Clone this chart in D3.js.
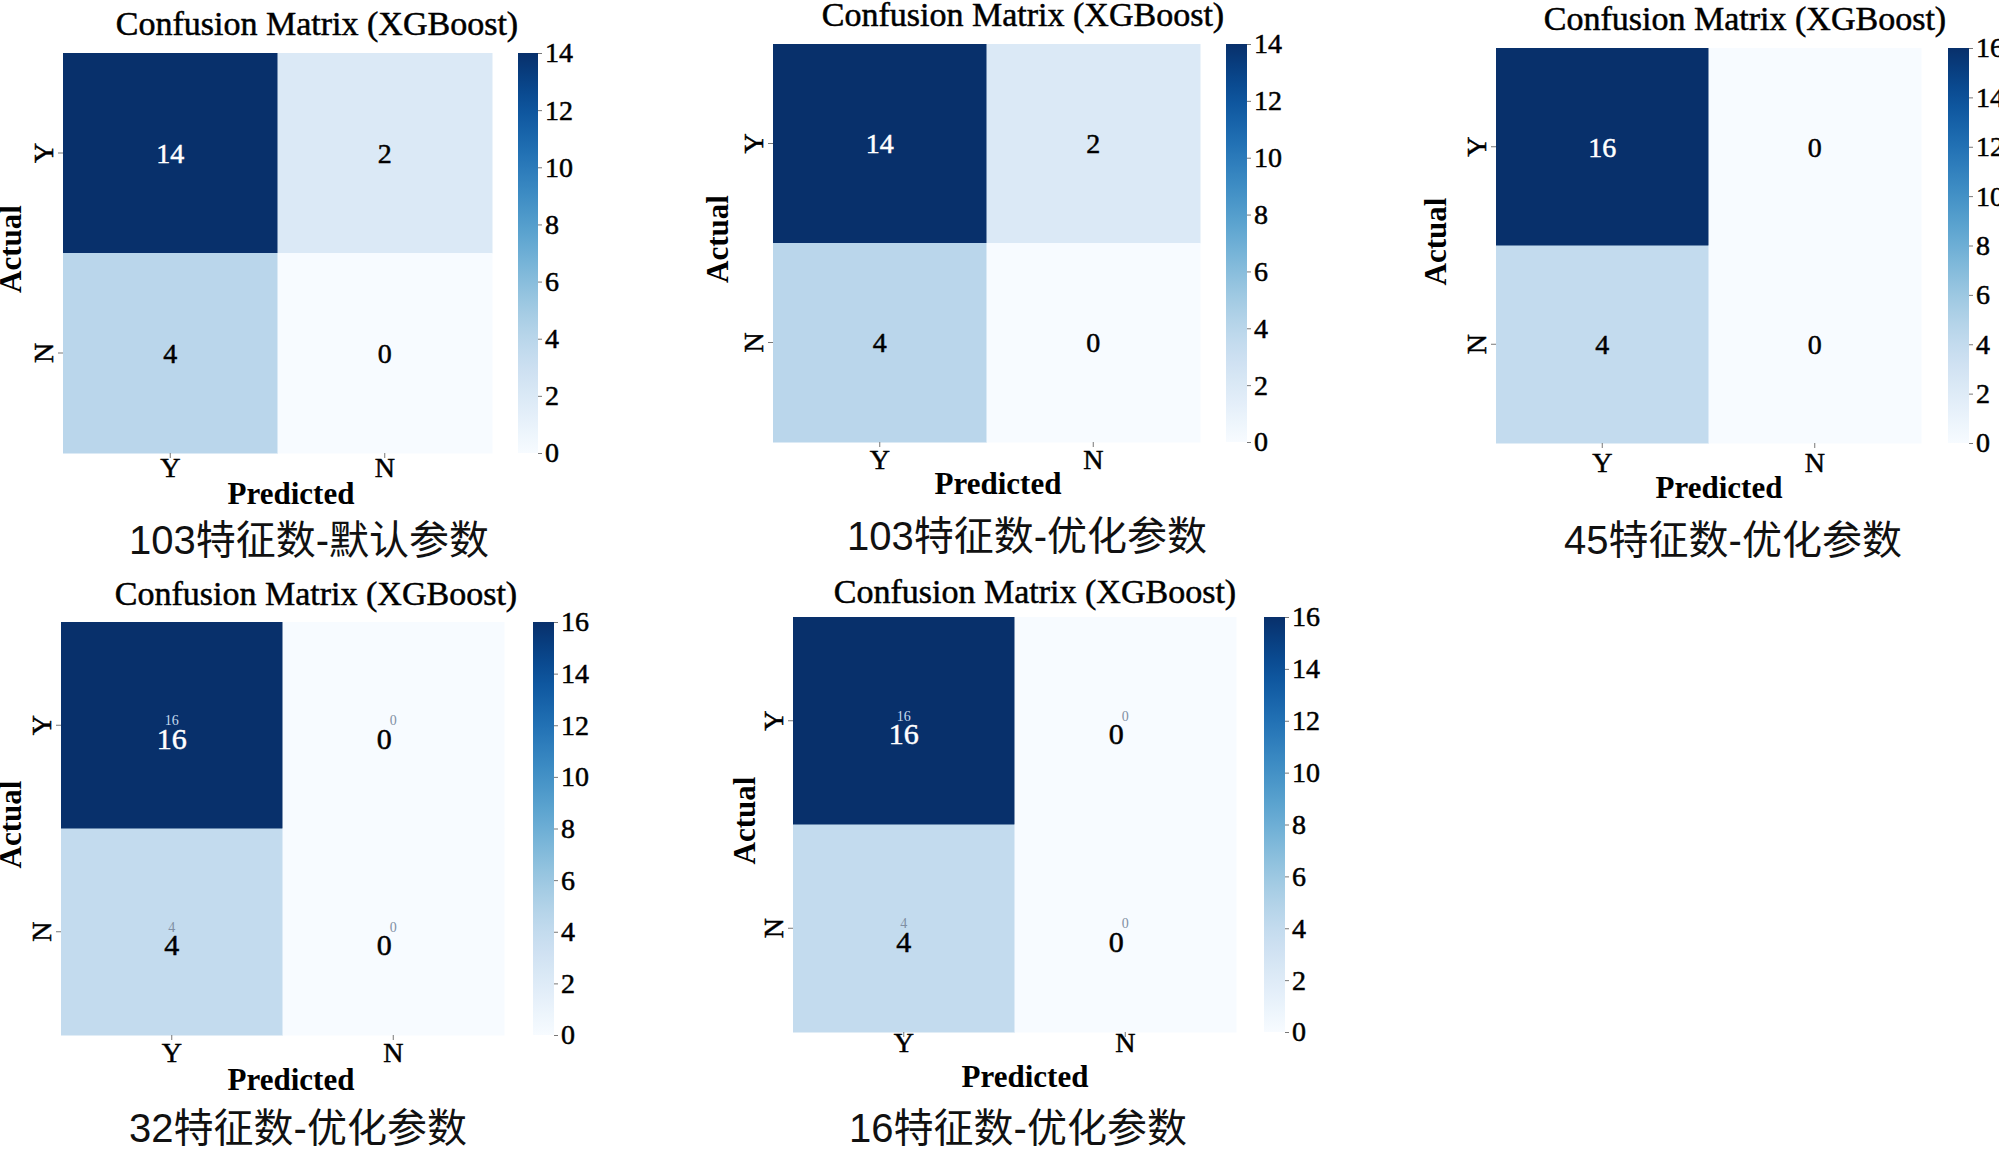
<!DOCTYPE html>
<html>
<head>
<meta charset="utf-8">
<script src="https://cdn.jsdelivr.net/npm/d3@7"></script>
<style>
body { margin: 0; background: #fff; }
text { font-family: "Liberation Serif", "Times New Roman", serif; }
.serif { stroke-width: 0.5; paint-order: stroke; }
.sub { font-family: "Liberation Sans", "Noto Sans CJK SC", sans-serif; }
</style>
</head>
<body>
<div id="chart"></div>
<script>
//--------------------- data
let classes = ["Y", "N"];
let chartTitle = "Confusion Matrix (XGBoost)";
let subTitles = ["103特征数-默认参数", "103特征数-优化参数", "45特征数-优化参数", "32特征数-优化参数", "16特征数-优化参数"];
let cm_103_default = [[14, 2], [4, 0]];
let cm_103_opt = [[14, 2], [4, 0]];
let cm_45_opt = [[16, 0], [4, 0]];
let cm_32_opt = [[16, 0], [4, 0]];
let cm_16_opt = [[16, 0], [4, 0]];
let cbarTicks14 = [0, 2, 4, 6, 8, 10, 12, 14];
let cbarTicks16 = [0, 2, 4, 6, 8, 10, 12, 14, 16];

let matrices = [cm_103_default, cm_103_opt, cm_45_opt, cm_32_opt, cm_16_opt];
let cbarTicks = [cbarTicks14, cbarTicks14, cbarTicks16, cbarTicks16, cbarTicks16];

//--------------------- layout of each panel (heatmap box, colorbar x, text spots)
let layout = [
    {hm: [63, 492, 53, 453], cb: [518, 538], title: [317, 35], actualX: 21, tickY: 477, pred: [291, 504], sub: [309, 554], ghost: false},
    {hm: [773, 1200, 44, 442], cb: [1226, 1247], title: [1023, 26], actualX: 728, tickY: 469, pred: [998, 494], sub: [1027, 550], ghost: false},
    {hm: [1496, 1921, 48, 443], cb: [1948, 1969], title: [1745, 30], actualX: 1446, tickY: 472, pred: [1719, 498], sub: [1733, 554], ghost: false},
    {hm: [61, 504, 622, 1035], cb: [533, 554], title: [316, 605], actualX: 21, tickY: 1062, pred: [291, 1090], sub: [298, 1142], ghost: true},
    {hm: [793, 1236, 617, 1032], cb: [1264, 1285], title: [1035, 603], actualX: 755, tickY: 1052, pred: [1025, 1087], sub: [1018, 1142], ghost: true}
];

let svg = d3.select("#chart").append("svg")
    .attr("width", 1999)
    .attr("height", 1150)
    .style("background", "#fff");

let defs = svg.append("defs");

matrices.forEach((m, i) => {
    let L = layout[i];
    let ticks = cbarTicks[i];
    let vmax = d3.max(ticks);
    let g = svg.append("g");

    let x = d3.scaleBand().domain(classes).range([L.hm[0], L.hm[1]]);
    let y = d3.scaleBand().domain(classes).range([L.hm[2], L.hm[3]]);
    let color = d3.scaleSequential(d3.interpolateBlues).domain([0, vmax]);

    let cells = [];
    classes.forEach((a, r) => classes.forEach((p, c) => cells.push({actual: a, pred: p, v: m[r][c], c: c})));

    // cells
    g.selectAll(".cell").data(cells).enter().append("rect")
        .attr("x", d => x(d.pred))
        .attr("y", d => y(d.actual))
        .attr("width", x.bandwidth() + 0.5)
        .attr("height", y.bandwidth() + 0.5)
        .attr("fill", d => color(d.v));

    // ghost labels (small leftovers seen in two panels)
    if (L.ghost) {
        g.selectAll(".ghost").data(cells).enter().append("text")
            .attr("x", d => x(d.pred) + x.bandwidth() / 2)
            .attr("y", d => y(d.actual) + y.bandwidth() / 2)
            .attr("text-anchor", "middle")
            .attr("font-size", 14)
            .attr("fill", d => d.v > vmax / 2 ? "#c6dbef" : "#7f8fa3")
            .text(d => d.v);
    }

    // value labels
    g.selectAll(".val").data(cells).enter().append("text")
        .attr("class", "serif")
        .attr("x", d => x(d.pred) + x.bandwidth() / 2 + (L.ghost && d.c == 1 ? -9 : 0))
        .attr("y", d => y(d.actual) + y.bandwidth() / 2 + (L.ghost ? 13 : 0))
        .attr("dy", "0.35em")
        .attr("text-anchor", "middle")
        .attr("font-size", L.ghost ? 30 : 28)
        .attr("fill", d => d.v > vmax / 2 ? "#fff" : "#000")
        .attr("stroke", d => d.v > vmax / 2 ? "#fff" : "#000")
        .text(d => d.v);

    // axes
    let yAxis = g.append("g")
        .attr("transform", "translate(" + L.hm[0] + ",0)")
        .call(d3.axisLeft(y).tickSize(5).tickPadding(5));
    yAxis.select(".domain").remove();
    yAxis.selectAll("line").attr("stroke", "#777");
    yAxis.selectAll("text")
        .attr("class", "serif")
        .attr("font-size", 28)
        .attr("fill", "#000").attr("stroke", "#000")
        .attr("text-anchor", "middle")
        .attr("x", null).attr("dy", null)
        .attr("transform", "translate(-10,0) rotate(-90)");

    let xAxis = g.append("g")
        .attr("transform", "translate(0," + L.hm[3] + ")")
        .call(d3.axisBottom(x).tickSize(5));
    xAxis.select(".domain").remove();
    xAxis.selectAll("line").attr("stroke", "#777");
    xAxis.selectAll("text")
        .attr("class", "serif")
        .attr("font-size", 28)
        .attr("fill", "#000").attr("stroke", "#000")
        .attr("y", L.tickY - L.hm[3])
        .attr("dy", null);

    // colorbar
    let gid = "cbgrad" + i;
    let grad = defs.append("linearGradient").attr("id", gid)
        .attr("x1", 0).attr("y1", 1).attr("x2", 0).attr("y2", 0);
    d3.range(0, 1.0001, 0.05).forEach(t => {
        grad.append("stop").attr("offset", t).attr("stop-color", d3.interpolateBlues(t));
    });
    g.append("rect")
        .attr("x", L.cb[0]).attr("y", L.hm[2])
        .attr("width", L.cb[1] - L.cb[0])
        .attr("height", L.hm[3] - L.hm[2])
        .attr("fill", "url(#" + gid + ")");
    let cy = d3.scaleLinear().domain([0, vmax]).range([L.hm[3], L.hm[2]]);
    let cAxis = g.append("g")
        .attr("transform", "translate(" + L.cb[1] + ",0)")
        .call(d3.axisRight(cy).tickValues(ticks).tickSize(4).tickPadding(3));
    cAxis.select(".domain").remove();
    cAxis.selectAll("line").attr("stroke", "#777");
    cAxis.selectAll("text")
        .attr("class", "serif")
        .attr("font-size", 28)
        .attr("fill", "#000").attr("stroke", "#000");

    // titles
    g.append("text")
        .attr("class", "serif")
        .attr("x", L.title[0]).attr("y", L.title[1])
        .attr("text-anchor", "middle")
        .attr("font-size", 34)
        .attr("fill", "#000").attr("stroke", "#000")
        .text(chartTitle);

    g.append("text")
        .attr("transform", "translate(" + L.actualX + "," + ((L.hm[2] + L.hm[3]) / 2 - 4) + ") rotate(-90)")
        .attr("text-anchor", "middle")
        .attr("font-size", 31)
        .attr("font-weight", "bold")
        .attr("fill", "#000")
        .text("Actual");

    g.append("text")
        .attr("x", L.pred[0]).attr("y", L.pred[1])
        .attr("text-anchor", "middle")
        .attr("font-size", 31)
        .attr("font-weight", "bold")
        .attr("fill", "#000")
        .text("Predicted");

    g.append("text")
        .attr("class", "sub")
        .attr("x", L.sub[0]).attr("y", L.sub[1])
        .attr("text-anchor", "middle")
        .attr("font-size", 40)
        .attr("fill", "#111")
        .text(subTitles[i]);
});
</script>
</body>
</html>
